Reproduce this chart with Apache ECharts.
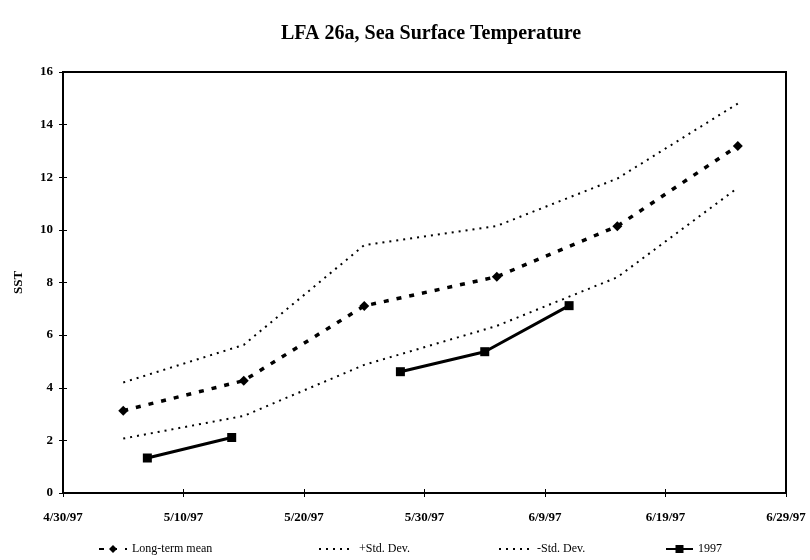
<!DOCTYPE html>
<html>
<head>
<meta charset="utf-8">
<title>LFA 26a, Sea Surface Temperature</title>
<script src="https://cdn.jsdelivr.net/npm/echarts@6/dist/echarts.min.js"></script>
<style>
  html, body { margin: 0; padding: 0; background: #fff; }
  #chart { width: 810px; height: 560px; }
</style>
</head>
<body>
<div id="chart"></div>
<script>
// Sampling dates for the long-term statistics
const meanDates = ['5/5/97', '5/15/97', '5/25/97', '6/5/97', '6/15/97', '6/25/97'];
const meanValues = [3.13, 4.27, 7.11, 8.22, 10.14, 13.19];
const plusStdValues = [4.20, 5.63, 9.42, 10.15, 11.95, 14.80];
const minusStdValues = [2.07, 2.93, 4.87, 6.35, 8.20, 11.60];

// 1997 weekly observations (no reading on 5/21)
const obsDates = ['5/7/97', '5/14/97', '5/21/97', '5/28/97', '6/4/97', '6/11/97'];
const obsValues = [1.33, 2.11, null, 4.61, 5.37, 7.12];

// Axis extent: 4/30/97 .. 6/29/97, labelled every 10 days
const axisStart = '4/30/97';
const axisDays = 60;
const tickStepDays = 10;
const yTicks = [0, 2, 4, 6, 8, 10, 12, 14, 16];

const DAY = 86400000;
function parseDate(s) {
  const [m, d, y] = s.split('/').map(Number);
  return Date.UTC(1900 + y, m - 1, d);
}
const base = parseDate(axisStart);
function dayOffset(s) { return Math.round((parseDate(s) - base) / DAY); }
function dateLabel(v) {
  const dt = new Date(base + v * DAY);
  return (dt.getUTCMonth() + 1) + '/' + dt.getUTCDate() + '/' + String(dt.getUTCFullYear()).slice(2);
}
function pairs(dates, vals) { return dates.map((d, i) => [dayOffset(d), vals[i]]); }

const serif = '"Liberation Serif", "DejaVu Serif", serif';
const axisLabelStyle = { color: '#000', fontFamily: serif, fontWeight: 'bold', fontSize: 13 };
const noMarker = { color: 'rgba(0,0,0,0)', borderColor: 'rgba(0,0,0,0)', borderWidth: 0 };

const chart = echarts.init(document.getElementById('chart'));
chart.setOption({
  backgroundColor: '#fff',
  animation: false,
  title: {
    text: 'LFA 26a, Sea Surface Temperature',
    left: 276, top: 19,
    textStyle: { fontFamily: serif, fontWeight: 'bold', fontSize: 20, color: '#000' }
  },
  grid: {
    left: 63, right: 24, top: 72, bottom: 67,
    show: true, borderColor: '#000', borderWidth: 2, backgroundColor: '#fff'
  },
  xAxis: [{
    type: 'value', min: 0, max: axisDays, interval: tickStepDays,
    axisLine: { lineStyle: { color: '#000', width: 2 } },
    axisTick: { length: 4, lineStyle: { color: '#000', width: 1 } },
    axisLabel: Object.assign({ margin: 18, formatter: dateLabel }, axisLabelStyle),
    splitLine: { show: false }
  }, {
    type: 'value', min: 0, max: axisDays, interval: tickStepDays, position: 'bottom',
    axisLine: { show: false },
    axisTick: { inside: true, length: 4, lineStyle: { color: '#000', width: 1 } },
    axisLabel: { show: false }, splitLine: { show: false }
  }],
  yAxis: [{
    type: 'value', min: yTicks[0], max: yTicks[yTicks.length - 1], interval: 2,
    name: 'SST', nameLocation: 'middle', nameGap: 38, nameRotate: 90,
    nameTextStyle: { fontFamily: serif, fontWeight: 'bold', fontSize: 13, color: '#000' },
    axisLine: { show: true, lineStyle: { color: '#000', width: 2 } },
    axisTick: { show: true, length: 4, lineStyle: { color: '#000', width: 1 } },
    axisLabel: Object.assign({ margin: 10 }, axisLabelStyle),
    splitLine: { show: false }
  }, {
    type: 'value', min: yTicks[0], max: yTicks[yTicks.length - 1], interval: 2, position: 'left',
    axisLine: { show: false },
    axisTick: { show: true, inside: true, length: 4, lineStyle: { color: '#000', width: 1 } },
    axisLabel: { show: false }, splitLine: { show: false }
  }],
  legend: [
    { data: ['Long-term mean'], left: 98, itemWidth: 28 },
    { data: [{ name: '+Std. Dev.', itemStyle: noMarker }], left: 318, itemWidth: 35 },
    { data: [{ name: '-Std. Dev.', itemStyle: noMarker }], left: 498, itemWidth: 33 },
    { data: ['1997'], left: 665, itemWidth: 27 }
  ].map(l => Object.assign(l, {
    top: 543, padding: 0, itemGap: 0, itemHeight: 10,
    textStyle: { fontFamily: serif, fontSize: 12, color: '#000' }
  })),
  series: [
    {
      name: 'Long-term mean', type: 'line', data: pairs(meanDates, meanValues),
      symbol: 'diamond', symbolSize: 10,
      itemStyle: { color: '#000' },
      lineStyle: { color: '#000', width: 3.5, type: [5, 8] }
    },
    {
      name: '+Std. Dev.', type: 'line', data: pairs(meanDates, plusStdValues),
      symbol: 'none',
      itemStyle: { color: '#000' },
      lineStyle: { color: '#000', width: 2, type: [2, 5] }
    },
    {
      name: '-Std. Dev.', type: 'line', data: pairs(meanDates, minusStdValues),
      symbol: 'none',
      itemStyle: { color: '#000' },
      lineStyle: { color: '#000', width: 2, type: [2, 5] }
    },
    {
      name: '1997', type: 'line', data: pairs(obsDates, obsValues),
      connectNulls: false,
      symbol: 'rect', symbolSize: 9,
      itemStyle: { color: '#000' },
      lineStyle: { color: '#000', width: 3 }
    }
  ]
});
</script>
</body>
</html>
